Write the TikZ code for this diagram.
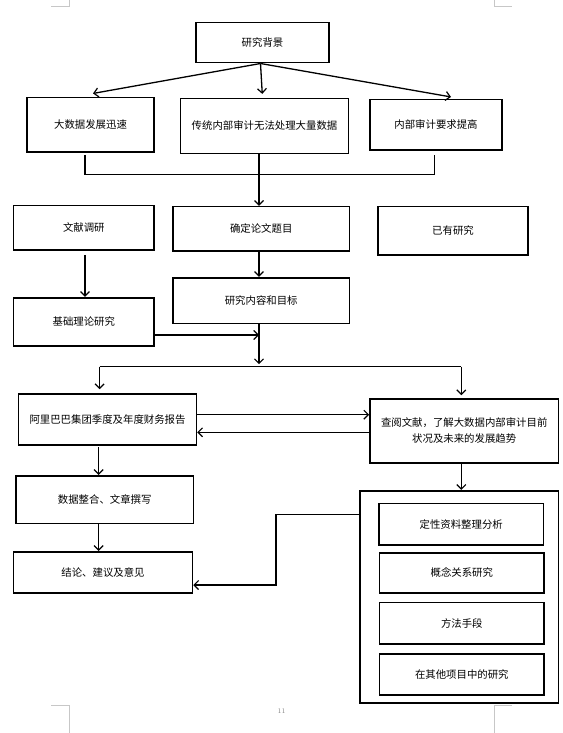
\documentclass[tikz,border=0pt]{standalone}
\usepackage{fontspec}
\newfontfamily\cjk{Noto Sans CJK SC}
\usetikzlibrary{arrows.meta}
\begin{document}
\begin{tikzpicture}[x=1pt,y=-1pt,
  box/.style={draw=black, line width=1.6pt, fill=white, inner sep=0pt, align=center, font=\cjk\fontsize{10.4}{16}\selectfont},
  arr/.style={line width=1.3pt, -{Straight Barb[length=4.5pt,width=9pt,line width=1.2pt]}},
  ln/.style={line width=1.3pt},
  pagemark/.style={draw=black!22, line width=0.8pt}]
\useasboundingbox (0,0) rectangle (562,733);
% page marks
\draw[pagemark] (51,6.7) -- (69,6.7) -- (69,0);
\draw[pagemark] (511.5,6.7) -- (494.6,6.7) -- (494.6,0);
\draw[pagemark] (51,705.7) -- (69,705.7) -- (69,733);
\draw[pagemark] (511.5,705.7) -- (494.6,705.7) -- (494.6,733);
\node[font=\fontsize{7}{8}\selectfont, text=black!50] (pg) at (281.7,711) {11};
% boxes
\node[box, minimum width=133pt, minimum height=40pt] (bg) at (262.5,42.7) {研究背景};
\node[box, minimum width=127pt, minimum height=54.3pt] (dsj) at (90.5,124.8) {大数据发展迅速};
\node[box, minimum width=167.8pt, minimum height=54.6pt] (ct) at (264.5,126) {传统内部审计无法处理大量数据};
\node[box, minimum width=132pt, minimum height=50.7pt] (nb) at (436,124.7) {内部审计要求提高};
\node[box, minimum width=140.4pt, minimum height=44.3pt] (wx) at (83.8,227.8) {文献调研};
\node[box, minimum width=176.7pt, minimum height=44.3pt] (qd) at (261.2,228.8) {确定论文题目};
\node[box, minimum width=150.5pt, minimum height=48.3pt] (yy) at (453,230.8) {已有研究};
\node[box, minimum width=176.7pt, minimum height=45.6pt] (nr) at (261.2,300.5) {研究内容和目标};
\node[box, minimum width=140.4pt, minimum height=48pt] (jc) at (83.8,321.7) {基础理论研究};
\node[box, minimum width=177.8pt, minimum height=51pt] (al) at (107.5,419.5) {阿里巴巴集团季度及年度财务报告};
\node[box, minimum width=188.5pt, minimum height=64pt] (cy) at (464.2,430.7) {查阅文献，了解大数据内部审计目前\\状况及未来的发展趋势};
\node[box, minimum width=177.7pt, minimum height=47.6pt] (sj) at (104.7,499.5) {数据整合、文章撰写};
\node[box, minimum width=178.9pt, minimum height=41pt] (jl) at (103,572.2) {结论、建议及意见};
\node[box, minimum width=198.2pt, minimum height=212pt] (big) at (459.3,596.7) {};
\node[box, minimum width=164.5pt, minimum height=41.3pt] (dx) at (461.2,524.3) {定性资料整理分析};
\node[box, minimum width=164.4pt, minimum height=40pt] (gn) at (461.8,572.7) {概念关系研究};
\node[box, minimum width=164.4pt, minimum height=41.3pt] (ff) at (461.8,623.3) {方法手段};
\node[box, minimum width=164.4pt, minimum height=41pt] (qt) at (461.8,674.5) {在其他项目中的研究};
% connector helper coordinates
\coordinate (brk) at (259,174.7);
\coordinate (lx) at (85,0);
\coordinate (jy) at (0,335);
\coordinate (sp) at (259,366.7);
\coordinate (sl) at (99.6,366.7);
\coordinate (sr) at (461.3,366.7);
\coordinate (u) at (0,414.7);
\coordinate (d) at (0,432.3);
\coordinate (ax) at (98.6,0);
\coordinate (c1) at (276,514.3);
\coordinate (c2) at (276,585);
% connectors
\draw[arr] ([xshift=-2pt]bg.south) -- ([xshift=2.5pt,yshift=3.4pt]dsj.north);
\draw[arr, shorten >=4pt] ([xshift=-2pt]bg.south) -- (bg.south |- ct.north);
\draw[arr] ([xshift=-2pt]bg.south) -- ([xshift=15pt,yshift=1.6pt]nb.north);
\draw[ln] ([xshift=-5.5pt,yshift=-2pt]dsj.south) |- (brk) -| ([xshift=-1.6pt,yshift=-4pt]nb.south);
\draw[arr] (ct.south -| brk) -- (qd.north -| brk);
\draw[arr] (qd.south -| brk) -- (nr.north -| brk);
\draw[arr, shorten <=4pt] (wx.south -| lx) -- (jc.north -| lx);
\draw[arr] (jc.east |- jy) -- (brk |- jy);
\draw[arr, shorten >=2.5pt] (nr.south -| brk) -- (sp);
\draw[ln] (sl) -- (sr);
\draw[arr, shorten >=4pt] (sl) -- (sl |- al.north);
\draw[arr, shorten >=2.7pt] (sr) -- (sr |- cy.north);
\draw[arr] (al.east |- u) -- (cy.west |- u);
\draw[arr] (cy.west |- d) -- (al.east |- d);
\draw[arr, shorten <=1.5pt] (al.south -| ax) -- (sj.north -| ax);
\draw[arr] (sj.south -| ax) -- (jl.north -| ax);
\draw[arr] (cy.south -| sr) -- (big.north -| sr);
\draw[arr] (big.west |- c1) -- (c1) -- (c2) -- (jl.east |- c2);
\end{tikzpicture}
\end{document}
